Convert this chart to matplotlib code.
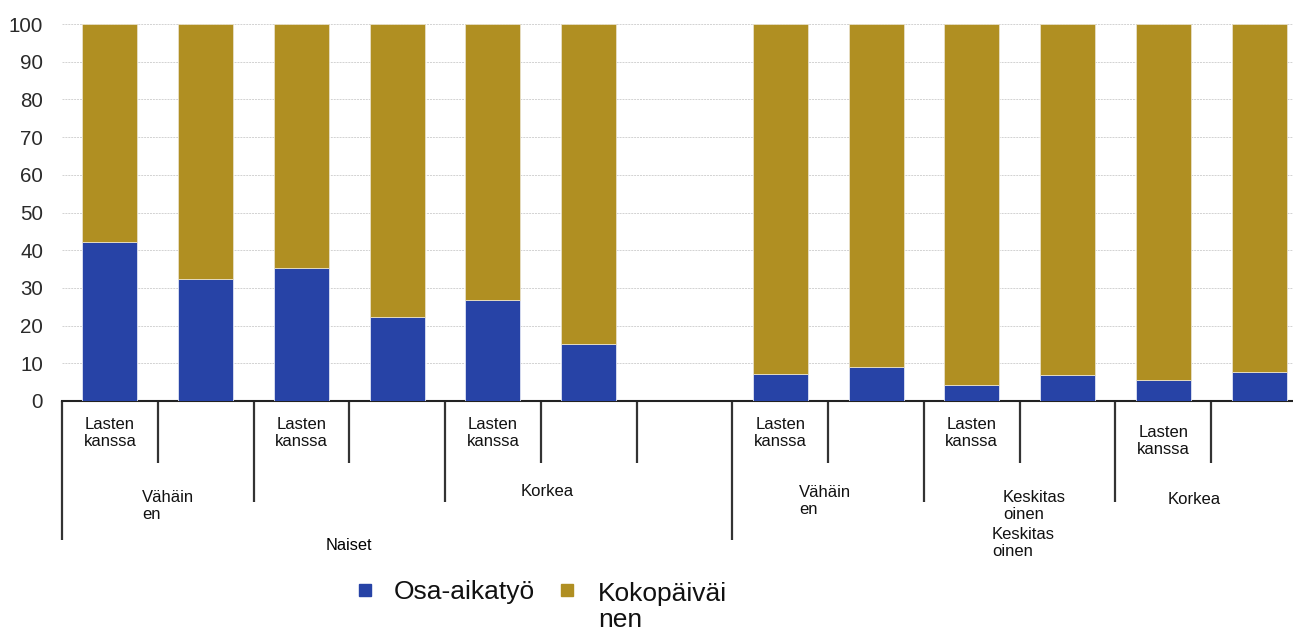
import numpy as np
import matplotlib
matplotlib.use("Agg")
import matplotlib.pyplot as plt
from matplotlib.patches import Rectangle

plt.rcParams['font.family'] = ['Liberation Sans', 'DejaVu Sans']

# ---- data ----
level1_labels = ["Lasten\nkanssa", "", "Lasten\nkanssa", "", "Lasten\nkanssa", "", "",
                 "Lasten\nkanssa", "", "Lasten\nkanssa", "", "Lasten\nkanssa", ""]
osa_aikatyo = [42.2, 32.4, 35.3, 22.3, 26.8, 15.1, np.nan, 7.2, 9.0, 4.2, 6.9, 5.6, 7.7]
kokopaivainen = [100 - v for v in osa_aikatyo]
series_names = ["Osa-aikatyö", "Kokopäiväi\nnen"]
yticks = [0, 10, 20, 30, 40, 50, 60, 70, 80, 90, 100]

BLUE = "#2743a6"
GOLD = "#b08f22"

W, H = 1293, 632
fig = plt.figure(figsize=(W / 100, H / 100), dpi=100)
ax = fig.add_axes([62 / W, (H - 401) / H, (1307 - 62) / W, 377 / H])

x = np.arange(len(osa_aikatyo))
osa = np.array(osa_aikatyo, dtype=float)
koko = np.array(kokopaivainen, dtype=float)
m = ~np.isnan(osa)
bw = 0.574
ax.bar(x[m], osa[m], width=bw, color=BLUE, edgecolor="#dfe3f3", linewidth=0.6, zorder=3)
ax.bar(x[m], koko[m], bottom=osa[m], width=bw, color=GOLD, edgecolor="#e8e0c8", linewidth=0.6, zorder=3)

ax.set_xlim(-0.5, len(x) - 0.5)
ax.set_ylim(0, 100)
ax.set_yticks(yticks)
ax.set_yticklabels([str(t) for t in yticks], fontsize=14.8, color="#2a2a2a")
ax.tick_params(axis='y', length=0, pad=13.5)
ax.set_xticks([])
for s in ["top", "right", "left"]:
    ax.spines[s].set_visible(False)
ax.spines["bottom"].set_color("#222222")
ax.spines["bottom"].set_linewidth(1.5)
ax.grid(axis='y', linestyle=(0, (2.0, 1.0)), color="#d2d2d2", linewidth=0.7, zorder=0)
ax.set_axisbelow(True)

# ---- category separators ----
tr = ax.get_xaxis_transform()
px = 1 / 377.0
short_, med_, long_ = -62 * px, -101 * px, -139 * px
sep_len = {0: long_, 1: short_, 2: med_, 3: short_, 4: med_, 5: short_, 6: short_,
           7: long_, 8: short_, 9: med_, 10: short_, 11: med_, 12: short_}
for k, L in sep_len.items():
    ax.plot([k - 0.5, k - 0.5], [0, L], transform=tr, color="#333333", lw=1.6,
            clip_on=False, solid_capstyle='butt')

# level-1 labels
for i, lab in enumerate(level1_labels):
    if lab:
        yc = 441 if i == 11 else 433
        ax.text(i, -(yc - 401) * px, lab, transform=tr, ha='center', va='center',
                fontsize=12, linespacing=1.1, color="#111111")

def ftext(xp, yp, s, ha='left', **kw):
    fig.text(xp / W, 1 - yp / H, s, ha=ha, va='center', **kw)

lvl2 = dict(fontsize=12, linespacing=1.1, color="#111111")
ftext(142, 506, "Vähäin\nen", **lvl2)
ftext(547, 491, "Korkea", ha='center', **lvl2)
ftext(799, 501, "Vähäin\nen", **lvl2)
ftext(1003, 506, "Keskitas\noinen", **lvl2)
ftext(992, 543, "Keskitas\noinen", **lvl2)
ftext(1194, 499, "Korkea", ha='center', **lvl2)
ftext(349, 545, "Naiset", ha='center', fontsize=11.8, color="#000000")

# ---- legend ----
for (cx, col) in [(365, BLUE), (567, GOLD)]:
    fig.patches.append(Rectangle(((cx - 6) / W, 1 - (590 + 6) / H), 12 / W, 12 / H,
                                 transform=fig.transFigure, color=col, figure=fig))
ftext(394, 592, series_names[0], fontsize=19, color="#111111")
ftext(598, 607, series_names[1], fontsize=19, linespacing=1.1, color="#111111")

fig.savefig("out.png", dpi=100)
